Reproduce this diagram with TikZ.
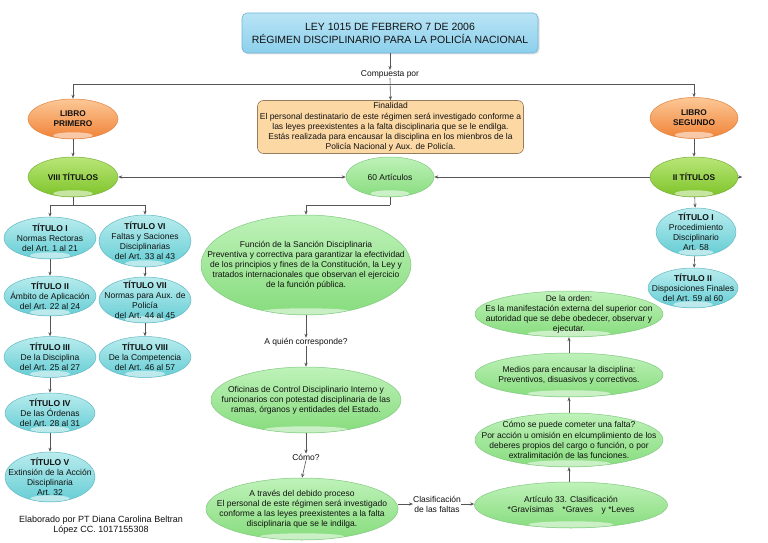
\documentclass[tikz,border=0pt]{standalone}
\usepackage{fontspec}
\setmainfont{Liberation Sans}
\usetikzlibrary{shapes.geometric,arrows.meta,shadows,calc}
\definecolor{linec}{HTML}{555555}
\definecolor{txtc}{HTML}{111111}
\begin{document}
\begin{tikzpicture}[x=1pt,y=-1pt,
  txt/.style={font=\fontsize{8.5}{10.1}\selectfont, align=center, text=txtc, inner sep=0pt},
  hl/.style={path picture={\fill[white,opacity=0.55] let \p1=(path picture bounding box.east), \p2=(path picture bounding box.west), \p3=(path picture bounding box.south) in (\x3,\y3+3.5pt) ellipse [x radius={0.22*(\x1-\x2)}, y radius=3.2pt];}},
  lgrn/.style={ellipse, inner sep=0pt, hl, draw=green!40!gray!70, line width=0.5pt, top color={rgb,255:red,190;green,242;blue,185}, bottom color={rgb,255:red,135;green,220;blue,125}},
  dgrn/.style={ellipse, inner sep=0pt, hl, draw={rgb,255:red,120;green,175;blue,60}, line width=0.5pt, top color={rgb,255:red,185;green,230;blue,120}, bottom color={rgb,255:red,125;green,195;blue,40}},
  cyan/.style={ellipse, inner sep=0pt, hl, draw={rgb,255:red,100;green,185;blue,195}, line width=0.5pt, top color={rgb,255:red,185;green,236;blue,238}, bottom color={rgb,255:red,100;green,205;blue,212}},
  orng/.style={ellipse, inner sep=0pt, hl, draw={rgb,255:red,225;green,130;blue,60}, line width=0.5pt, top color={rgb,255:red,252;green,200;blue,150}, bottom color={rgb,255:red,240;green,130;blue,55}},
  conn/.style={draw=linec, line width=0.6pt},
  arr/.style={conn, -{Stealth[length=4pt,width=3.2pt]}},
  bold/.style={font=\fontsize{8.3}{10}\selectfont\bfseries, align=center, text=txtc}
]
\useasboundingbox (0,0) rectangle (768,543);
\fill[white] (0,0) rectangle (768,543);

% title
\node[rectangle, rounded corners=5pt, minimum width=296pt, minimum height=40pt,
  draw={rgb,255:red,110;green,180;blue,215}, line width=0.6pt,
  top color={rgb,255:red,185;green,228;blue,245}, bottom color={rgb,255:red,140;green,208;blue,236},
  drop shadow={opacity=0.25, shadow xshift=1.5pt, shadow yshift=-1.5pt},
  font=\fontsize{10.5}{13}\selectfont, align=center, text=txtc] (t) at (390,33)
  {LEY 1015 DE FEBRERO 7 DE 2006\\RÉGIMEN DISCIPLINARIO PARA LA POLICÍA NACIONAL};
\node[txt] (cp) at (390,74) {Compuesta por};

% finalidad
\node[rectangle, rounded corners=6pt, minimum width=266pt, minimum height=53pt,
  draw={rgb,255:red,150;green,125;blue,95}, line width=0.6pt,
  fill={rgb,255:red,252;green,216;blue,165}, txt] (fin) at (390.5,127)
  {Finalidad\\El personal destinatario de este régimen será investigado conforme a\\las leyes preexistentes a la falta disciplinaria que se le endilga.\\Estás realizada para encausar la disciplina en los mienbros de la\\Policía Nacional y Aux. de Policía.};

% books
\node[orng, minimum width=90pt, minimum height=40pt, label={[bold]center:LIBRO\\PRIMERO}] (lp) at (73,119) {};
\node[orng, minimum width=88pt, minimum height=41pt, label={[bold]center:LIBRO\\SEGUNDO}] (ls) at (694,118) {};
\node[dgrn, minimum width=90pt, minimum height=40pt, label={[bold]center:VIII TÍTULOS}] (vt) at (73,177) {};
\node[dgrn, minimum width=88pt, minimum height=40pt, label={[bold]center:II TÍTULOS}] (it) at (694,177) {};
\node[lgrn, minimum width=88pt, minimum height=40pt, label={[txt]center:60 Artículos}] (art) at (390,177) {};

% left titles
\node[cyan, minimum width=92pt, minimum height=42pt, label={[txt]center:{\textbf{TÍTULO I}\\Normas Rectoras\\del Art. 1 al 21}}] (t1) at (50,238) {};
\node[cyan, minimum width=92pt, minimum height=40pt, label={[txt]center:{\textbf{TÍTULO II}\\Ámbito de Aplicación\\del Art. 22 al 24}}] (t2) at (50,296) {};
\node[cyan, minimum width=92pt, minimum height=41pt, label={[txt]center:{\textbf{TÍTULO III}\\De la Disciplina\\del Art. 25 al 27}}] (t3) at (50,357) {};
\node[cyan, minimum width=90pt, minimum height=40pt, label={[txt]center:{\textbf{TÍTULO IV}\\De las Órdenas\\del Art. 28 al 31}}] (t4) at (50,413) {};
\node[cyan, minimum width=90pt, minimum height=50pt, label={[txt]center:{\textbf{TÍTULO V}\\Extinsión de la Acción\\Disciplinaria\\Art. 32}}] (t5) at (50,477) {};
\node[cyan, minimum width=92pt, minimum height=52pt, label={[txt]center:{\textbf{TÍTULO VI}\\Faltas y Saciones\\Disciplinarias\\del Art. 33 al 43}}] (t6) at (145,241) {};
\node[cyan, minimum width=92pt, minimum height=46pt, label={[txt]center:{\textbf{TÍTULO VII}\\Normas para Aux. de\\Policía\\del Art. 44 al 45}}] (t7) at (145,300) {};
\node[cyan, minimum width=92pt, minimum height=41pt, label={[txt]center:{\textbf{TÍTULO VIII}\\De la Competencia\\del Art. 46 al 57}}] (t8) at (145,357) {};

% right titles
\node[cyan, minimum width=80pt, minimum height=48pt, label={[txt]center:{\textbf{TÍTULO I}\\Procedimiento\\Disciplinario\\Art. 58}}] (r1) at (696,232) {};
\node[cyan, minimum width=90pt, minimum height=40pt, label={[txt]center:{\textbf{TÍTULO II}\\Disposiciones Finales\\del Art. 59 al 60}}] (r2) at (693,288) {};

% middle column
\node[lgrn, minimum width=210pt, minimum height=100pt, label={[txt]center:{Función de la Sanción Disciplinaria\\Preventiva y correctiva para garantizar la efectividad\\de los principios y fines de la Constitución, la Ley y\\tratados internacionales que observan el ejercicio\\de la función pública.}}] (fun) at (306,265) {};
\node[txt] (q1) at (306,342) {A quién corresponde?};
\node[lgrn, minimum width=190pt, minimum height=66pt, label={[txt]center:{Oficinas de Control Disciplinario Interno y\\funcionarios con potestad disciplinaria de las\\ramas, órganos y entidades del Estado.}}] (of) at (306,400) {};
\node[txt] (q2) at (306,457) {Cómo?};
\node[lgrn, minimum width=192pt, minimum height=62pt, label={[txt]center:{A través del debido proceso\\El personal de este régimen será investigado\\conforme a las leyes preexistentes a la falta\\disciplinaria que se le indilga.}}] (at) at (302,509) {};
\node[txt] (cl) at (437,504) {Clasificación\\de las faltas};

% right-middle column
\node[lgrn, minimum width=193pt, minimum height=46pt, label={[txt]center:{Artículo 33. Clasificación\\*Gravísimas\quad*Graves\quad y *Leves}}] (a33) at (571,505) {};
\node[lgrn, minimum width=188pt, minimum height=54pt, label={[txt]center:{Cómo se puede cometer una falta?\\Por acción u omisión en elcumplimiento de los\\deberes propios del cargo o función, o por\\extralimitación de las funciones.}}] (cs) at (569,440) {};
\node[lgrn, minimum width=188pt, minimum height=44pt, label={[txt]center:{Medios para encausar la disciplina:\\Preventivos, disuasivos y correctivos.}}] (md) at (569,375) {};
\node[lgrn, minimum width=188pt, minimum height=46pt, label={[txt]center:{De la orden:\\Es la manifestación externa del superior con\\autoridad que se debe obedecer, observar y\\ejecutar.}}] (de) at (569,314) {};

% footer
\node[txt, font=\fontsize{9}{10}\selectfont] (foot) at (101,525) {Elaborado por PT Diana Carolina Beltran\\López CC. 1017155308};

% connectors
\coordinate (hl) at (73,84);
\coordinate (hr) at (694,84);
\draw[arr] (t.south) -- (cp.north);
\draw[conn] (hl) -- (hr);
\draw[arr] (cp.south) -- (fin.north);
\draw[arr] (hl) -- (lp.north);
\draw[arr] (hr) -- (ls.north);
\draw[arr] (lp) -- (vt);
\draw[arr] (ls) -- (it);
\draw[conn, {Stealth[length=4pt,width=3.2pt]}-{Stealth[length=4pt,width=3.2pt]}] (vt.east) -- (art.west);
\draw[arr] (it.west) -- (art.east);
\draw[arr] (it.east) -- ++(4,0);

\draw[conn] (vt.south) -- ++(0,8) coordinate (j1);
\draw[arr] (j1) -| (t1.north);
\draw[arr] (j1) -| (t6.north);
\draw[arr] (t1) -- (t2);
\draw[arr] (t2) -- (t3);
\draw[arr] (t3) -- (t4);
\draw[arr] (t4) -- (t5);
\draw[arr] (t6) -- (t7);
\draw[arr] (t7) -- (t8);

\draw[arr] (it) -- (r1);
\draw[arr] (r1) -- (r2);

\draw[conn] (art.south) -- ++(0,8) coordinate (j2);
\draw[arr] (j2) -| (fun.north);
\draw[arr] (fun.south) -- (q1.north);
\draw[arr] (q1.south) -- (of.north);
\draw[arr] (of.south) -- (q2.north);
\draw[arr] (q2.south) -- (at.north);
\draw[arr] (at.east |- cl.west) -- (cl.west);
\draw[arr] (cl.east) -- (cl.east -| a33.west);
\draw[arr] (a33.north -| cs.south) -- (cs.south);
\draw[arr] (cs.north) -- (md.south);
\draw[arr] (md.north) -- (de.south);
\end{tikzpicture}
\end{document}
